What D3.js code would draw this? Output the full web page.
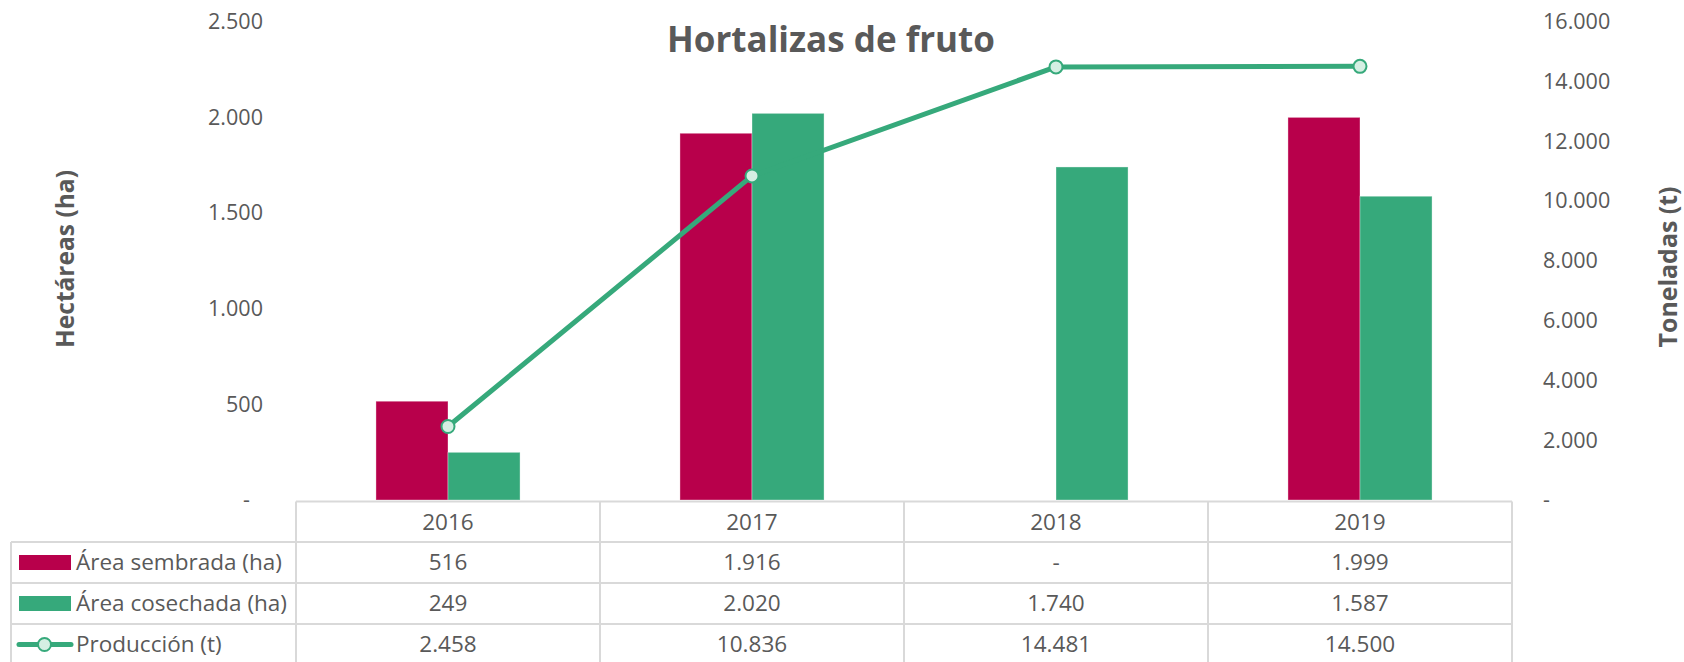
<!DOCTYPE html>
<html>
<head>
<meta charset="utf-8">
<script src="https://cdn.jsdelivr.net/npm/d3@7"></script>
<style>
  html, body { margin: 0; padding: 0; background: #ffffff; }
  svg { display: block; }
  text { font-family: "Open Sans", "Noto Sans", sans-serif; fill: #595959; }
</style>
</head>
<body>
<svg id="chart" width="1684" height="662"></svg>
<script>
// ---- Data ----
const title = "Hortalizas de fruto";
const years = ["2016", "2017", "2018", "2019"];
const areaSembrada = [516, 1916, 0, 1999];
const areaCosechada = [249, 2020, 1740, 1587];
const produccion = [2458, 10836, 14481, 14500];
const leftTicks = [0, 500, 1000, 1500, 2000, 2500];
const rightTicks = [0, 2000, 4000, 6000, 8000, 10000, 12000, 14000, 16000];
const seriesNames = ["Área sembrada (ha)", "Área cosechada (ha)", "Producción (t)"];
const leftTitle = "Hectáreas (ha)";
const rightTitle = "Toneladas (t)";

// ---- Styles / layout ----
const colSembrada = "#b8004b";
const colCosechada = "#36a97b";
const colLine = "#36a97b";
const colMarkerFill = "#d5efe3";
const gridCol = "#d9d9d9";
const textCol = "#595959";

const svg = d3.select("#chart");

const loc = d3.formatLocale({ decimal: ",", thousands: ".", grouping: [3], currency: ["", ""] });
const fmt = v => (v === 0 ? "-" : loc.format(",")(v));

// measure helper to fit a font size to a target width
function fitSize(str, weight, target) {
  const t = svg.append("text").attr("font-size", 100).attr("font-weight", weight).text(str);
  const w = t.node().getComputedTextLength();
  t.remove();
  return 100 * target / w;
}
const tickSize = fitSize("2.500", 400, 55);
const tableSize = fitSize("Área sembrada (ha)", 400, 206);
const titleSize = fitSize(title, 700, 328);
const leftTitleSize = fitSize(leftTitle, 700, 178);
const rightTitleSize = fitSize(rightTitle, 700, 161);

const plotLeft = 296, plotRight = 1512, plotBottom = 500, plotTop = 21.5;

const x = d3.scaleBand().domain(years).range([plotLeft, plotRight]).padding(0);
const yL = d3.scaleLinear().domain([0, 2500]).range([plotBottom, plotTop]);
const yR = d3.scaleLinear().domain([0, 16000]).range([plotBottom, plotTop]);
const barW = x.bandwidth() * 0.237;
const cx = d => x(d) + x.bandwidth() / 2;

// ---- Title ----
svg.append("text")
  .attr("x", 831).attr("y", 52)
  .attr("text-anchor", "middle")
  .attr("font-size", titleSize).attr("font-weight", 700)
  .style("fill", textCol)
  .text(title);

// ---- Axes ----
const axL = svg.append("g").attr("transform", `translate(${plotLeft},0)`)
  .call(d3.axisLeft(yL).tickValues(leftTicks).tickSize(0).tickPadding(33).tickFormat(fmt));
axL.select(".domain").remove();
axL.selectAll("text").attr("font-size", tickSize).style("fill", textCol)
  .attr("font-family", null)
  .attr("dx", d => d === 0 ? -13 : 0);

const axR = svg.append("g").attr("transform", `translate(${plotRight},0)`)
  .call(d3.axisRight(yR).tickValues(rightTicks).tickSize(0).tickPadding(31).tickFormat(fmt));
axR.select(".domain").remove();
axR.selectAll("text").attr("font-size", tickSize).style("fill", textCol).attr("font-family", null);

// axis titles
svg.append("text")
  .attr("transform", "translate(74,259) rotate(-90)")
  .attr("text-anchor", "middle")
  .attr("font-size", leftTitleSize).attr("font-weight", 700)
  .style("fill", textCol)
  .text(leftTitle);
svg.append("text")
  .attr("transform", "translate(1677,267) rotate(-90)")
  .attr("text-anchor", "middle")
  .attr("font-size", rightTitleSize).attr("font-weight", 700)
  .style("fill", textCol)
  .text(rightTitle);

// ---- Bars ----
const rows = years.map((y, i) => ({ year: y, s: areaSembrada[i], c: areaCosechada[i], p: produccion[i] }));

svg.append("g").selectAll("rect").data(rows).join("rect")
  .attr("x", d => cx(d.year) - barW)
  .attr("y", d => yL(d.s))
  .attr("width", barW)
  .attr("height", d => yL(0) - yL(d.s))
  .attr("fill", colSembrada)
  .attr("stroke", "rgba(255,255,255,0.35)").attr("stroke-width", 1)
  .style("display", d => d.s === 0 ? "none" : null);

svg.append("g").selectAll("rect").data(rows).join("rect")
  .attr("x", d => cx(d.year))
  .attr("y", d => yL(d.c))
  .attr("width", barW)
  .attr("height", d => yL(0) - yL(d.c))
  .attr("fill", colCosechada)
  .attr("stroke", "rgba(255,255,255,0.35)").attr("stroke-width", 1);

// ---- Line ----
const line = d3.line().x(d => cx(d.year)).y(d => yR(d.p));
svg.append("path").datum(rows)
  .attr("d", line)
  .attr("fill", "none")
  .attr("stroke", colLine)
  .attr("stroke-width", 5)
  .attr("stroke-linejoin", "round")
  .attr("stroke-linecap", "round");
svg.append("g").selectAll("circle").data(rows).join("circle")
  .attr("cx", d => cx(d.year))
  .attr("cy", d => yR(d.p))
  .attr("r", 6.5)
  .attr("fill", colMarkerFill)
  .attr("stroke", colLine)
  .attr("stroke-width", 2);

// ---- Data table ----
const tableLeft = 11;
const rowEdges = [501.5, 542, 583, 624, 665];
const tg = svg.append("g");
const lineStyle = sel => sel.attr("stroke", gridCol).attr("stroke-width", 2).attr("fill", "none");

// horizontal lines
tg.append("line").attr("x1", plotLeft).attr("x2", plotRight).attr("y1", rowEdges[0]).attr("y2", rowEdges[0]).call(lineStyle);
[1, 2, 3].forEach(i => {
  tg.append("line").attr("x1", tableLeft).attr("x2", plotRight).attr("y1", rowEdges[i]).attr("y2", rowEdges[i]).call(lineStyle);
});
// vertical lines
tg.append("line").attr("x1", tableLeft).attr("x2", tableLeft).attr("y1", rowEdges[1]).attr("y2", rowEdges[4]).call(lineStyle);
const colEdges = years.map(y => x(y)).concat([plotRight]);
colEdges.forEach(cxp => {
  tg.append("line").attr("x1", cxp).attr("x2", cxp).attr("y1", rowEdges[0]).attr("y2", rowEdges[4]).call(lineStyle);
});

const rowMid = i => (rowEdges[i] + rowEdges[i + 1]) / 2;

// header (years)
tg.selectAll("text.yr").data(years).join("text").attr("class", "yr")
  .attr("x", d => cx(d)).attr("y", rowMid(0))
  .attr("dy", "0.35em").attr("text-anchor", "middle")
  .attr("font-size", tableSize).style("fill", textCol)
  .text(d => d);

const seriesVals = [areaSembrada, areaCosechada, produccion];
seriesVals.forEach((vals, si) => {
  tg.selectAll("text.v" + si).data(vals).join("text").attr("class", "v" + si)
    .attr("x", (d, i) => cx(years[i])).attr("y", rowMid(si + 1))
    .attr("dy", "0.35em").attr("text-anchor", "middle")
    .attr("font-size", tableSize).style("fill", textCol)
    .text(d => fmt(d));
  tg.append("text")
    .attr("x", 76).attr("y", rowMid(si + 1))
    .attr("dy", "0.35em")
    .attr("font-size", tableSize).style("fill", textCol)
    .text(seriesNames[si]);
});

// legend keys
tg.append("rect").attr("x", 19).attr("y", rowMid(1) - 7.5).attr("width", 52).attr("height", 15).attr("fill", colSembrada);
tg.append("rect").attr("x", 19).attr("y", rowMid(2) - 7.5).attr("width", 52).attr("height", 15).attr("fill", colCosechada);
tg.append("line").attr("x1", 19).attr("x2", 71).attr("y1", rowMid(3)).attr("y2", rowMid(3))
  .attr("stroke", colLine).attr("stroke-width", 5).attr("stroke-linecap", "round");
tg.append("circle").attr("cx", 44.5).attr("cy", rowMid(3)).attr("r", 6.5)
  .attr("fill", colMarkerFill).attr("stroke", colLine).attr("stroke-width", 2);
</script>
</body>
</html>
